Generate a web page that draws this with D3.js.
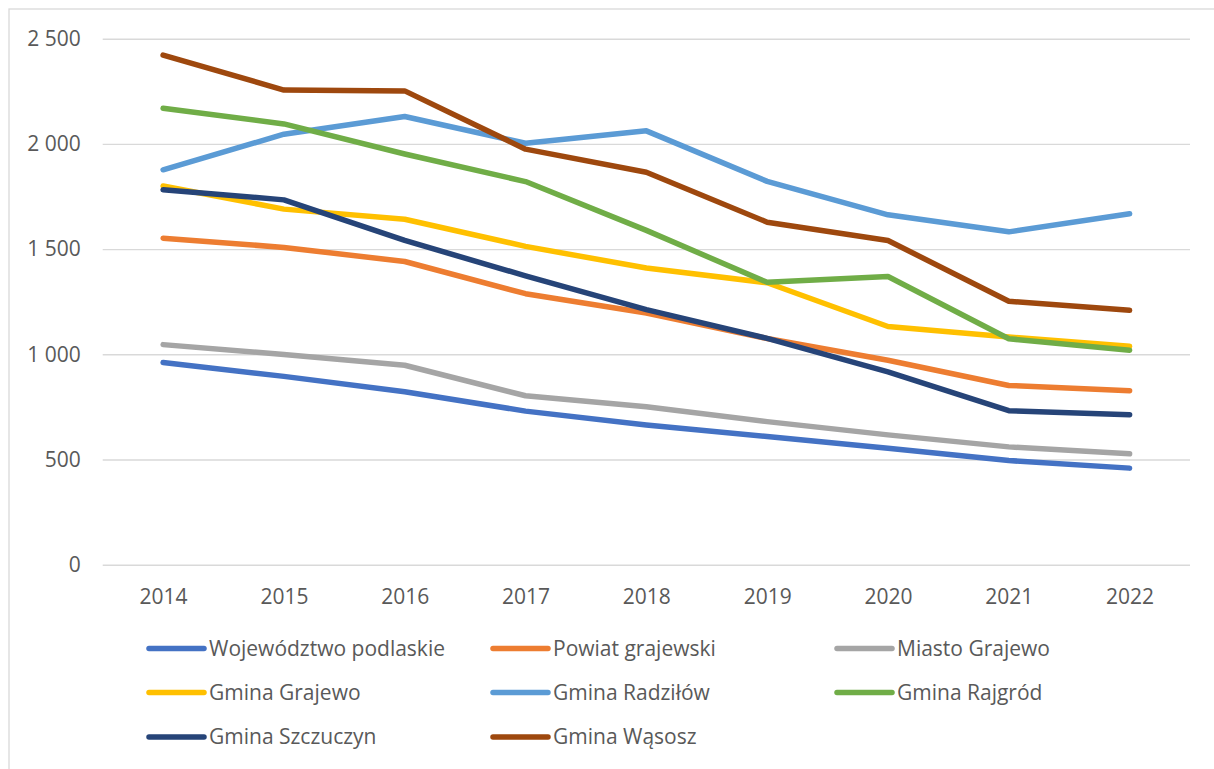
<!DOCTYPE html>
<html>
<head>
<meta charset="utf-8">
<script src="https://cdn.jsdelivr.net/npm/d3@7"></script>
<style>
  html, body { margin: 0; padding: 0; background: #fff; }
  svg { display: block; }
  text { font-family: "Open Sans", sans-serif; fill: #595959; }
</style>
</head>
<body>
<svg id="chart" width="1214" height="769"></svg>
<script>
const years = ["2014", "2015", "2016", "2017", "2018", "2019", "2020", "2021", "2022"];
const seriesNames = ["Województwo podlaskie", "Powiat grajewski", "Miasto Grajewo", "Gmina Grajewo", "Gmina Radziłów", "Gmina Rajgród", "Gmina Szczuczyn", "Gmina Wąsosz"];
const wojewodztwo = [961, 895, 822, 730, 664, 609, 554, 495, 459];
const powiat      = [1552, 1508, 1441, 1288, 1196, 1075, 972, 852, 827];
const miasto      = [1046, 999, 948, 803, 751, 680, 617, 560, 527];
const grajewo     = [1800, 1690, 1642, 1513, 1410, 1340, 1132, 1082, 1038];
const radzilow    = [1877, 2046, 2130, 2003, 2062, 1822, 1663, 1582, 1668];
const rajgrod     = [2169, 2095, 1952, 1821, 1589, 1342, 1370, 1074, 1019];
const szczuczyn   = [1782, 1734, 1541, 1373, 1212, 1076, 916, 732, 713];
const wasosz      = [2422, 2256, 2252, 1975, 1865, 1628, 1541, 1252, 1209];
const yTicks = [0, 500, 1000, 1500, 2000, 2500];
const colors = ["#4472C4", "#ED7D31", "#A5A5A5", "#FFC000", "#5B9BD5", "#70AD47", "#264478", "#9E480E"];

const seriesValues = [wojewodztwo, powiat, miasto, grajewo, radzilow, rajgrod, szczuczyn, wasosz];
const series = seriesNames.map((n, i) => ({ name: n, values: seriesValues[i], color: colors[i] }));

const svg = d3.select("#chart");
const FS = 21;

// chart border
svg.append("rect")
  .attr("x", 9).attr("y", 9)
  .attr("width", 1214).attr("height", 769)
  .attr("fill", "none").attr("stroke", "#d9d9d9").attr("stroke-width", 1.3);

const plotLeft = 102.7, plotRight = 1190, plotTop = 38.7, plotBottom = 564.7;

const x = d3.scalePoint().domain(years).range([plotLeft, plotRight]).padding(0.5);
const y = d3.scaleLinear().domain([0, 2500]).range([plotBottom, plotTop]);

const fmt = v => d3.format(",")(v).replace(/,/g, "\u00A0");

// gridlines + y labels
const yAxis = d3.axisLeft(y).tickValues(yTicks).tickSize(-(plotRight - plotLeft)).tickPadding(22).tickFormat(fmt);
const gy = svg.append("g").attr("transform", `translate(${plotLeft},0)`).call(yAxis);
gy.select(".domain").remove();
gy.selectAll(".tick line").attr("stroke", "#d9d9d9").attr("stroke-width", 1.4);
gy.selectAll(".tick text")
  .attr("font-size", FS).attr("fill", "#595959")
  .style("font-family", '"Open Sans", sans-serif');

// x labels
const xAxis = d3.axisBottom(x).tickSize(0).tickPadding(24);
const gx = svg.append("g").attr("transform", `translate(0,${plotBottom})`).call(xAxis);
gx.select(".domain").remove();
gx.selectAll(".tick text")
  .attr("font-size", FS).attr("fill", "#595959")
  .style("font-family", '"Open Sans", sans-serif');

// lines
const line = d3.line().x((d, i) => x(years[i])).y(d => y(d));
svg.append("g").selectAll("path")
  .data(series)
  .join("path")
  .attr("d", d => line(d.values))
  .attr("fill", "none")
  .attr("stroke", d => d.color)
  .attr("stroke-width", 5.5)
  .attr("stroke-linecap", "round")
  .attr("stroke-linejoin", "round");

// legend
const legCols = [149, 493, 837];
const legRows = [648.5, 692.5, 737];
const leg = svg.append("g").selectAll("g")
  .data(series)
  .join("g")
  .attr("transform", (d, i) => `translate(${legCols[i % 3]},${legRows[Math.floor(i / 3)]})`);
leg.append("line")
  .attr("x1", 0).attr("x2", 55).attr("y1", 0).attr("y2", 0)
  .attr("stroke", d => d.color).attr("stroke-width", 5.5).attr("stroke-linecap", "round");
leg.append("text")
  .attr("x", 60).attr("y", 0).attr("dy", "0.35em")
  .attr("font-size", FS)
  .text(d => d.name);
</script>
</body>
</html>
